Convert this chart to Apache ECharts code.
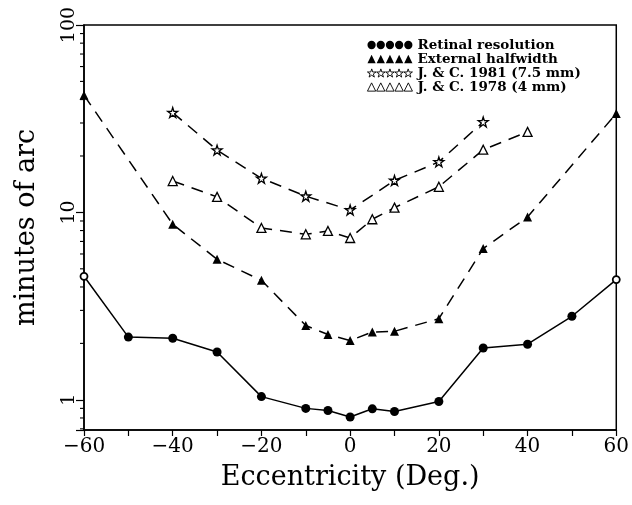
<!DOCTYPE html>
<html>
<head>
<meta charset="utf-8">
<script src="https://cdn.jsdelivr.net/npm/echarts@6/dist/echarts.min.js"></script>
<style>
html,body{margin:0;padding:0;background:#fff;}
#chart{width:632px;height:505px;}
</style>
</head>
<body>
<div id="chart"></div>
<script>
// ---- data ----
var seriesNames = ['Retinal resolution', 'External halfwidth', 'J. & C. 1981 (7.5 mm)', 'J. & C. 1978 (4 mm)'];

var retinalX = [-60, -50, -40, -30, -20, -10, -5, 0, 5, 10, 20, 30, 40, 50, 60];
var retinalY = [4.56, 2.16, 2.13, 1.80, 1.04, 0.90, 0.877, 0.81, 0.895, 0.866, 0.98, 1.89, 1.98, 2.79, 4.38];

var externalX = [-60, -40, -30, -20, -10, -5, 0, 5, 10, 20, 30, 40, 60];
var externalY = [42.2, 8.65, 5.62, 4.34, 2.49, 2.23, 2.07, 2.30, 2.32, 2.71, 6.41, 9.45, 33.7];

var jc1981X = [-40, -30, -20, -10, 0, 10, 20, 30];
var jc1981Y = [34.1, 21.5, 15.2, 12.2, 10.3, 14.8, 18.6, 30.4];

var jc1978X = [-40, -30, -20, -10, -5, 0, 5, 10, 20, 30, 40];
var jc1978Y = [14.7, 12.1, 8.26, 7.64, 7.96, 7.30, 9.19, 10.6, 13.7, 21.6, 26.9];

var xTickLabels = [-60, -40, -20, 0, 20, 40, 60];
var yTickLabels = [1, 10, 100];
var yMinorTicks = [0.7, 0.8, 0.9, 2, 3, 4, 5, 6, 7, 8, 9, 20, 30, 40, 50, 60, 70, 80, 90];

// ---- chart ----
function pairs(xs, ys) { return xs.map(function (x, i) { return [x, ys[i]]; }); }

var starPath = 'path://M50,2 L61,36 L97,36 L68,57 L79,92 L50,71 L21,92 L32,57 L3,36 L39,36 Z';

function fiveCircles() {
  var s = '';
  for (var i = 0; i < 5; i++) {
    var cx = i * 10 + 5;
    s += 'M' + (cx - 4.5) + ',5 A4.5,4.5 0 1,0 ' + (cx + 4.5) + ',5 A4.5,4.5 0 1,0 ' + (cx - 4.5) + ',5 Z ';
  }
  return 'path://' + s;
}
function fiveTriangles() {
  var s = '';
  for (var i = 0; i < 5; i++) {
    var x0 = i * 10;
    s += 'M' + (x0 + 5) + ',0.5 L' + (x0 + 9.5) + ',9.5 L' + (x0 + 0.5) + ',9.5 Z ';
  }
  return 'path://' + s;
}
function fiveStars() {
  var pts = [[50,2],[61,36],[97,36],[68,57],[79,92],[50,71],[21,92],[32,57],[3,36],[39,36]];
  var s = '';
  for (var i = 0; i < 5; i++) {
    pts.forEach(function (p, j) {
      s += (j === 0 ? 'M' : 'L') + (i * 10 + p[0] / 10).toFixed(2) + ',' + (p[1] / 10).toFixed(2) + ' ';
    });
    s += 'Z ';
  }
  return 'path://' + s;
}

var serifFont = '"DejaVu Serif", "Liberation Serif", serif';
var dash = [12, 8];

var retinalData = pairs(retinalX, retinalY).map(function (d, i, arr) {
  if (i === 0 || i === arr.length - 1) {
    return { value: d, symbolSize: 7, itemStyle: { color: '#fff', borderColor: '#000', borderWidth: 1.8 } };
  }
  return d;
});

var chart = echarts.init(document.getElementById('chart'), null, { renderer: 'canvas' });

chart.setOption({
  animation: false,
  backgroundColor: '#fff',
  grid: {
    left: 84, right: 12, top: 25, bottom: 75,
    show: true, borderColor: '#000', borderWidth: 1.5, backgroundColor: 'transparent'
  },
  legend: {
    orient: 'vertical',
    left: 367, top: 38,
    itemWidth: 45, itemHeight: 9, itemGap: 0,
    selectedMode: false,
    padding: 0,
    textStyle: { fontFamily: serifFont, fontWeight: 'bold', fontSize: 13.5, lineHeight: 14, color: '#000' },
    data: [
      { name: seriesNames[0], icon: fiveCircles(), itemStyle: { color: '#000', borderColor: '#000', borderWidth: 0 } },
      { name: seriesNames[1], icon: fiveTriangles(), itemStyle: { color: '#000', borderColor: '#000', borderWidth: 0 } },
      { name: seriesNames[2], icon: fiveStars(), itemStyle: { color: '#fff', borderColor: '#000', borderWidth: 0.9 } },
      { name: seriesNames[3], icon: fiveTriangles(), itemStyle: { color: '#fff', borderColor: '#000', borderWidth: 0.9 } }
    ]
  },
  xAxis: {
    type: 'value',
    min: -60, max: 60, interval: 10,
    name: 'Eccentricity (Deg.)',
    nameLocation: 'middle',
    nameGap: 34,
    nameTextStyle: { fontFamily: serifFont, fontSize: 27, color: '#000' },
    axisLine: { show: true, onZero: false, lineStyle: { color: '#000', width: 1.5 } },
    axisTick: { show: true, inside: false, length: 6, lineStyle: { color: '#000', width: 1.2 } },
    axisLabel: {
      fontFamily: serifFont, fontSize: 20, color: '#000', margin: 7,
      formatter: function (v) {
        if (xTickLabels.indexOf(v) < 0) return '';
        return String(v).replace('-', '\u2212');
      }
    },
    splitLine: { show: false }
  },
  yAxis: {
    type: 'log',
    logBase: 10,
    min: 0.69, max: 100,
    name: 'minutes of arc',
    nameLocation: 'middle',
    nameGap: 44,
    nameTextStyle: { fontFamily: serifFont, fontSize: 27, color: '#000' },
    axisLine: { show: true, onZero: false, lineStyle: { color: '#000', width: 1.5 } },
    axisTick: { show: true, inside: false, length: 8, lineStyle: { color: '#000', width: 1.2 } },
    axisLabel: {
      fontFamily: serifFont, fontSize: 19, color: '#000', rotate: 90, margin: 5,
      formatter: function (v) {
        var r = Math.round(v * 1000) / 1000;
        return yTickLabels.indexOf(r) >= 0 ? String(r) : '';
      }
    },
    splitLine: { show: false }
  },
  series: [
    {
      name: seriesNames[0], type: 'line', data: retinalData,
      symbol: 'circle', symbolSize: 9,
      itemStyle: { color: '#000' },
      lineStyle: { color: '#000', width: 1.5 }
    },
    {
      name: seriesNames[1], type: 'line', data: pairs(externalX, externalY),
      symbol: 'triangle', symbolSize: 9,
      itemStyle: { color: '#000' },
      lineStyle: { color: '#000', width: 1.5, type: dash }
    },
    {
      name: seriesNames[2], type: 'line', data: pairs(jc1981X, jc1981Y),
      symbol: starPath, symbolSize: 10,
      itemStyle: { color: '#fff', borderColor: '#000', borderWidth: 1.3 },
      lineStyle: { color: '#000', width: 1.5, type: dash }
    },
    {
      name: seriesNames[3], type: 'line', data: pairs(jc1978X, jc1978Y),
      symbol: 'triangle', symbolSize: 9,
      itemStyle: { color: '#fff', borderColor: '#000', borderWidth: 1.3 },
      lineStyle: { color: '#000', width: 1.5, type: dash }
    },
    {
      name: 'minorTicks', type: 'custom', silent: true, clip: false,
      data: yMinorTicks.map(function (v) { return [-60, v]; }),
      renderItem: function (params, api) {
        var p = api.coord([api.value(0), api.value(1)]);
        return {
          type: 'line',
          shape: { x1: p[0] - 4, y1: p[1], x2: p[0], y2: p[1] },
          style: { stroke: '#000', lineWidth: 1.1 }
        };
      }
    }
  ]
});
</script>
</body>
</html>
